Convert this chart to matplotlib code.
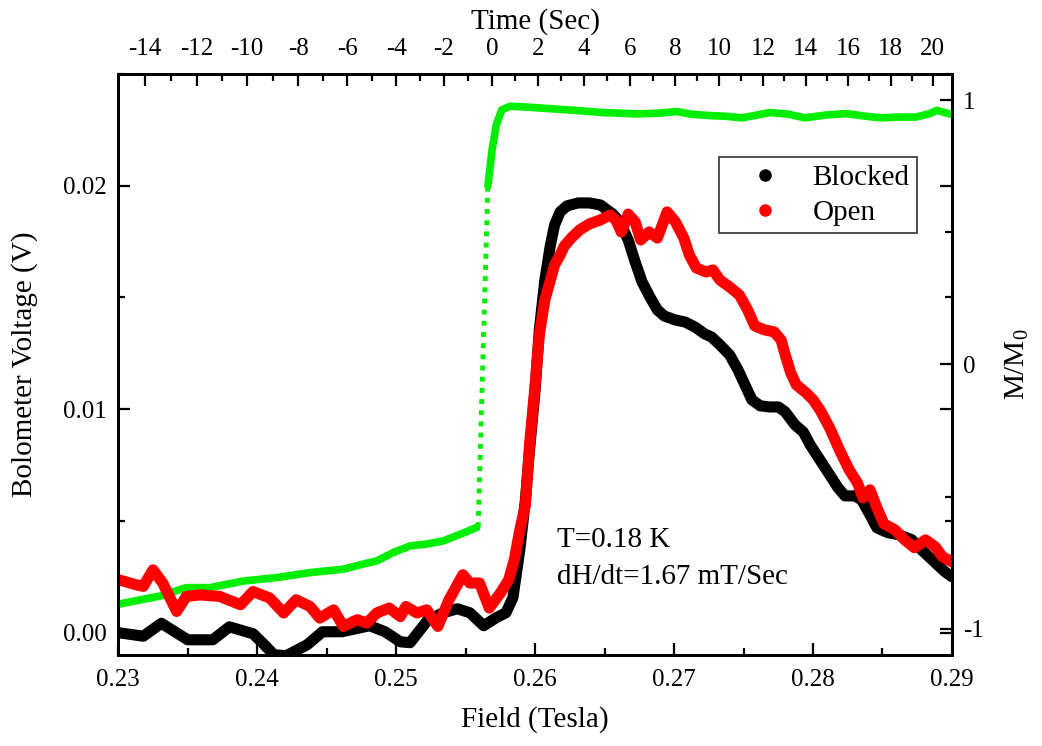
import matplotlib
matplotlib.use("Agg")
import matplotlib.pyplot as plt
import numpy as np
from matplotlib.lines import Line2D
from matplotlib.ticker import MultipleLocator, FixedLocator

plt.rcParams['font.family'] = ['Liberation Serif', 'DejaVu Serif']
plt.rcParams['mathtext.fontset'] = 'custom'
plt.rcParams['mathtext.rm'] = 'Liberation Serif'
plt.rcParams['axes.unicode_minus'] = False

# Blocked bolometer signal (V) vs field (T)
blocked_field = [0.2300, 0.2318, 0.2331, 0.2350, 0.2368, 0.2380, 0.2397, 0.2404, 0.2412, 0.2421,
                 0.2436, 0.2447, 0.2461, 0.2481, 0.2492, 0.2503, 0.2510, 0.2523, 0.2534, 0.2544,
                 0.2553, 0.2563, 0.2572, 0.2579, 0.2584, 0.2589, 0.2593, 0.2596, 0.2600, 0.2603,
                 0.2607, 0.2611, 0.2614, 0.2618, 0.2623, 0.2631, 0.2639, 0.2647, 0.2652, 0.2656,
                 0.2661, 0.2667, 0.2672, 0.2677, 0.2683, 0.2688, 0.2693, 0.2701, 0.2708, 0.2715,
                 0.2722, 0.2727, 0.2733, 0.2740, 0.2746, 0.2751, 0.2756, 0.2762, 0.2769, 0.2775,
                 0.2780, 0.2787, 0.2793, 0.2798, 0.2805, 0.2812, 0.2818, 0.2823, 0.2830, 0.2835,
                 0.2841, 0.2846, 0.2854, 0.2862, 0.2871, 0.2878, 0.2888, 0.2895, 0.2900]
blocked_volt = [0.00000, -0.00016, 0.00042, -0.00032, -0.00032, 0.00026, -0.00005, -0.00047, -0.00099, -0.00103,
                -0.00054, 0.00004, 0.00004, 0.00031, 0.00004, -0.00041, -0.00045, 0.00058, 0.00089, 0.00107,
                0.00089, 0.00031, 0.00067, 0.00089, 0.00156, 0.00371, 0.00594, 0.00818, 0.01086, 0.01354,
                0.01578, 0.01735, 0.01824, 0.01883, 0.01910, 0.01923, 0.01923, 0.01914, 0.01891, 0.01873,
                0.01838, 0.01757, 0.01659, 0.01569, 0.01498, 0.01444, 0.01417, 0.01399, 0.01390, 0.01368,
                0.01337, 0.01323, 0.01288, 0.01243, 0.01176, 0.01109, 0.01042, 0.01015, 0.01010, 0.01010,
                0.00988, 0.00930, 0.00898, 0.00840, 0.00773, 0.00706, 0.00648, 0.00612, 0.00612, 0.00594,
                0.00527, 0.00469, 0.00447, 0.00438, 0.00416, 0.00371, 0.00313, 0.00272, 0.00250]

# Open bolometer signal (V) vs field (T)
open_field = [0.2300, 0.2313, 0.2318, 0.2325, 0.2332, 0.2342, 0.2349, 0.2359, 0.2373, 0.2388,
              0.2397, 0.2409, 0.2419, 0.2428, 0.2438, 0.2445, 0.2455, 0.2462, 0.2472, 0.2479,
              0.2486, 0.2495, 0.2503, 0.2507, 0.2515, 0.2522, 0.2530, 0.2538, 0.2548, 0.2553,
              0.2560, 0.2567, 0.2575, 0.2581, 0.2585, 0.2589, 0.2593, 0.2596, 0.2600, 0.2603,
              0.2607, 0.2611, 0.2614, 0.2618, 0.2621, 0.2626, 0.2632, 0.2639, 0.2647, 0.2654,
              0.2658, 0.2662, 0.2667, 0.2672, 0.2676, 0.2682, 0.2688, 0.2695, 0.2701, 0.2707,
              0.2711, 0.2716, 0.2723, 0.2728, 0.2733, 0.2740, 0.2747, 0.2753, 0.2758, 0.2765,
              0.2772, 0.2777, 0.2780, 0.2784, 0.2788, 0.2795, 0.2800, 0.2805, 0.2812, 0.2819,
              0.2826, 0.2832, 0.2836, 0.2841, 0.2846, 0.2851, 0.2859, 0.2866, 0.2873, 0.2881,
              0.2888, 0.2893, 0.2900]
open_volt = [0.00237, 0.00214, 0.00207, 0.00281, 0.00222, 0.00095, 0.00162, 0.00169, 0.00162, 0.00125,
             0.00184, 0.00155, 0.00088, 0.00147, 0.00117, 0.00065, 0.00102, 0.00028, 0.00058, 0.00043,
             0.00088, 0.00110, 0.00072, 0.00117, 0.00088, 0.00102, 0.00028, 0.00147, 0.00259, 0.00222,
             0.00222, 0.00110, 0.00177, 0.00237, 0.00326, 0.00460, 0.00572, 0.00840, 0.01109, 0.01332,
             0.01489, 0.01578, 0.01646, 0.01690, 0.01730, 0.01766, 0.01802, 0.01829, 0.01847, 0.01869,
             0.01847, 0.01793, 0.01873, 0.01838, 0.01757, 0.01793, 0.01766, 0.01883, 0.01838, 0.01766,
             0.01690, 0.01632, 0.01614, 0.01623, 0.01578, 0.01547, 0.01511, 0.01444, 0.01373, 0.01355,
             0.01346, 0.01310, 0.01243, 0.01162, 0.01109, 0.01073, 0.01042, 0.00997, 0.00916, 0.00818,
             0.00729, 0.00670, 0.00603, 0.00639, 0.00559, 0.00487, 0.00460, 0.00415, 0.00380, 0.00415,
             0.00384, 0.00340, 0.00317]

# magnetization M/M0 vs field, before and after the avalanche
mag_low_field = [0.2300, 0.2318, 0.2330, 0.2349, 0.2366, 0.2390, 0.2414, 0.2438, 0.2462, 0.2476,
                 0.2486, 0.2498, 0.2510, 0.2522, 0.2534, 0.2546, 0.2558]
mag_low = [-0.908, -0.889, -0.877, -0.845, -0.845, -0.820, -0.807, -0.788, -0.775, -0.756,
           -0.744, -0.712, -0.687, -0.680, -0.668, -0.643, -0.617]
jump_field = [0.2559, 0.2566]
jump_mag = [-0.615, 0.676]
mag_high_field = [0.2566, 0.2569, 0.2572, 0.2576, 0.2582, 0.2593, 0.2607, 0.2624, 0.2649, 0.2674,
                  0.2690, 0.2702, 0.2712, 0.2724, 0.2737, 0.2749, 0.2769, 0.2782, 0.2794, 0.2810,
                  0.2824, 0.2838, 0.2849, 0.2862, 0.2874, 0.2884, 0.2889, 0.2894, 0.2899]
mag_high = [0.676, 0.812, 0.907, 0.964, 0.978, 0.975, 0.970, 0.964, 0.954, 0.949,
            0.952, 0.958, 0.948, 0.943, 0.940, 0.934, 0.954, 0.948, 0.934, 0.945,
            0.950, 0.940, 0.934, 0.937, 0.937, 0.950, 0.962, 0.955, 0.948]

# top axis: time (s) labels and where they sit on the field axis
time_ticks = [-14, -12, -10, -8, -6, -4, -2, 0, 2, 4, 6, 8, 10, 12, 14, 16, 18, 20]
time_tick_field = [0.23192, 0.23564, 0.23928, 0.24295, 0.24647, 0.25000, 0.25343, 0.25693, 0.26021,
                   0.26352, 0.26683, 0.27010, 0.27324, 0.27640, 0.27948, 0.28251, 0.28558, 0.28862]

fig = plt.figure(figsize=(10.42, 7.46), dpi=100)
ax = fig.add_axes([0.1135, 0.122, 0.8001, 0.7788])
ax2 = ax.twinx()
ax3 = ax.twiny()

tick_fs = 18
label_fs = 21

# magnetization (right axis)
ax2.plot(mag_low_field, mag_low, color='#00ee00', lw=5.5, solid_capstyle='round', solid_joinstyle='round')
ax2.plot(jump_field, jump_mag, color='#00ee00', lw=3.5, linestyle=(0, (1, 1.3)))
ax2.plot(mag_high_field, mag_high, color='#00ee00', lw=5.5, solid_capstyle='round', solid_joinstyle='round')
ax2.set_ylim(-1.1, 1.1)
ax2.yaxis.set_major_locator(FixedLocator([-1, 0, 1]))
ax2.yaxis.set_minor_locator(MultipleLocator(0.5))
ax2.set_ylabel('M/M$_0$', fontsize=label_fs, labelpad=14)

# bolometer (left axis), drawn above the magnetization
ax.set_zorder(ax2.get_zorder() + 1)
ax.patch.set_visible(False)
ax.plot(blocked_field, blocked_volt, color='black', lw=8, solid_capstyle='round', solid_joinstyle='round')
ax.plot(open_field, open_volt, color='red', lw=8, solid_capstyle='round', solid_joinstyle='round')
ax.set_xlim(0.23, 0.29)
ax.set_ylim(-0.001, 0.025)
ax.xaxis.set_major_locator(MultipleLocator(0.01))
ax.xaxis.set_minor_locator(MultipleLocator(0.005))
ax.yaxis.set_major_locator(FixedLocator([0.0, 0.01, 0.02]))
ax.yaxis.set_minor_locator(MultipleLocator(0.005))
ax.set_xticks([0.23, 0.24, 0.25, 0.26, 0.27, 0.28, 0.29])
ax.set_xticklabels(['0.23', '0.24', '0.25', '0.26', '0.27', '0.28', '0.29'])
ax.set_yticks([0.0, 0.01, 0.02])
ax.set_yticklabels(['0.00', '0.01', '0.02'])
ax.set_xlabel('Field (Tesla)', fontsize=label_fs, labelpad=11)
ax.set_ylabel('Bolometer Voltage (V)', fontsize=label_fs, labelpad=18)

# time axis on top
ax3.set_xlim(ax.get_xlim())
ax3.set_xticks(time_tick_field)
ax3.set_xticklabels([str(t) for t in time_ticks])
mid = [(a + b) / 2 for a, b in zip(time_tick_field[:-1], time_tick_field[1:])]
ax3.xaxis.set_minor_locator(FixedLocator(mid))
ax3.set_xlabel('Time (Sec)', fontsize=label_fs, labelpad=7)

for a in (ax, ax2, ax3):
    for s in a.spines.values():
        s.set_linewidth(2.0)
    a.tick_params(which='major', direction='in', length=8.5, width=1.6, labelsize=tick_fs)
    a.tick_params(which='minor', direction='in', length=5, width=1.6)
ax.tick_params(axis='y', which='both', right=True, labelright=False)
ax.tick_params(axis='x', which='both', top=False)
ax.tick_params(axis='x', pad=10)
ax.tick_params(axis='y', pad=8)
ax2.tick_params(axis='y', pad=8)
ax3.tick_params(axis='x', pad=10)

handles = [Line2D([], [], color='black', marker='o', linestyle='none', markersize=8),
           Line2D([], [], color='red', marker='o', linestyle='none', markersize=8)]
leg = ax.legend(handles, ['Blocked', 'Open'], loc='upper right', bbox_to_anchor=(0.958, 0.857),
                borderaxespad=0, fontsize=label_fs, frameon=True, fancybox=False,
                handletextpad=0.35, borderpad=0.25, labelspacing=0.3, handlelength=2.6)
leg.get_frame().set_edgecolor('black')
leg.get_frame().set_linewidth(1.2)

ax.text(0.526, 0.198, 'T=0.18 K', transform=ax.transAxes, fontsize=label_fs, va='center', ha='left')
ax.text(0.526, 0.134, 'dH/dt=1.67 mT/Sec', transform=ax.transAxes, fontsize=label_fs, va='center', ha='left')

fig.savefig('out.png', dpi=100)
